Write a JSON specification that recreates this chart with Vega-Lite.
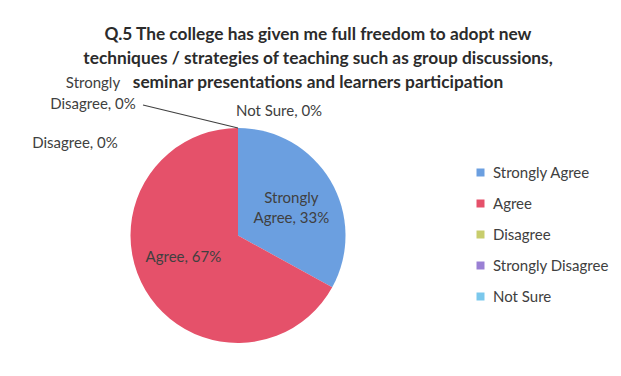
{
  "$schema": "https://vega.github.io/schema/vega-lite/v6.json",
  "width": 476,
  "height": 271,
  "autosize": {"type": "none"},
  "padding": {"left": 0, "top": 100, "right": 145, "bottom": 5},
  "background": "#ffffff",
  "config": {"view": {"stroke": null}, "font": "Lato"},
  "title": {
    "text": [
      "Q.5 The college has given me full freedom to adopt new",
      "techniques / strategies of teaching such as group discussions,",
      "seminar presentations and learners participation"
    ],
    "font": "Lato",
    "fontSize": 17.3,
    "fontWeight": "bold",
    "color": "#2b2b2b",
    "lineHeight": 24,
    "anchor": "middle",
    "dx": 80,
    "dy": 10,
    "offset": -6
  },
  "layer": [
    {
      "data": {
        "values": [
          {"answer": "Strongly Agree", "percent": 33},
          {"answer": "Agree", "percent": 67},
          {"answer": "Disagree", "percent": 0},
          {"answer": "Strongly Disagree", "percent": 0},
          {"answer": "Not Sure", "percent": 0}
        ]
      },
      "transform": [
        {"calculate": "indexof(['Strongly Agree','Agree','Disagree','Strongly Disagree','Not Sure'], datum.answer)", "as": "rank"},
        {"calculate": "replace(datum.answer, 'Strongly ', 'Strongly\\n') + ', ' + datum.percent + '%'", "as": "label"}
      ],
      "encoding": {
        "theta": {"field": "percent", "type": "quantitative", "stack": true},
        "order": {"field": "rank", "type": "quantitative", "sort": "ascending"}
      },
      "layer": [
        {
          "mark": {"type": "arc", "outerRadius": 107.5},
          "encoding": {
            "color": {
              "field": "answer",
              "type": "nominal",
              "scale": {
                "domain": ["Strongly Agree", "Agree", "Disagree", "Strongly Disagree", "Not Sure"],
                "range": ["#6b9fe0", "#e5516a", "#c8cd6c", "#9a80d4", "#7bc8ec"]
              },
              "legend": {
                "title": null,
                "orient": "none",
                "legendX": 473,
                "legendY": 65,
                "symbolType": "square",
                "symbolSize": 64,
                "symbolStrokeWidth": 0,
                "labelFont": "Lato",
                "labelFontSize": 15,
                "labelColor": "#404040",
                "labelOffset": 5,
                "rowPadding": 15
              }
            }
          }
        },
        {
          "mark": {"type": "text", "radius": 62, "dy": -6, "font": "Lato", "fontSize": 15, "color": "#404040", "lineBreak": "\n", "lineHeight": 20},
          "encoding": {"text": {"condition": {"test": "datum.answer == 'Strongly Agree'", "field": "label"}, "value": ""}}
        },
        {
          "mark": {"type": "text", "radius": 60, "dx": -3, "dy": -9, "font": "Lato", "fontSize": 15, "color": "#404040", "lineBreak": "\n"},
          "encoding": {"text": {"condition": {"test": "datum.answer == 'Agree'", "field": "label"}, "value": ""}}
        },
        {
          "mark": {"type": "text", "radius": 125, "dx": 41, "dy": 0, "font": "Lato", "fontSize": 15, "color": "#404040", "lineBreak": "\n"},
          "encoding": {"text": {"condition": {"test": "datum.answer == 'Not Sure'", "field": "label"}, "value": ""}}
        },
        {
          "mark": {"type": "text", "radius": 125, "dx": -163, "dy": 32, "font": "Lato", "fontSize": 15, "color": "#404040", "lineBreak": "\n"},
          "encoding": {"text": {"condition": {"test": "datum.answer == 'Disagree'", "field": "label"}, "value": ""}}
        },
        {
          "mark": {"type": "text", "radius": 125, "dx": -145, "dy": -28, "font": "Lato", "fontSize": 15, "color": "#404040", "lineBreak": "\n", "lineHeight": 21},
          "encoding": {"text": {"condition": {"test": "datum.answer == 'Strongly Disagree'", "field": "label"}, "value": ""}}
        }
      ]
    },
    {
      "data": {"values": [{}]},
      "mark": {"type": "rule", "color": "#404040", "strokeWidth": 1.2},
      "encoding": {
        "x": {"datum": 143, "type": "quantitative", "scale": {"domain": [0, 476]}, "axis": null},
        "y": {"datum": 5, "type": "quantitative", "scale": {"domain": [0, 271], "reverse": true}, "axis": null},
        "x2": {"datum": 238},
        "y2": {"datum": 28}
      }
    }
  ]
}
